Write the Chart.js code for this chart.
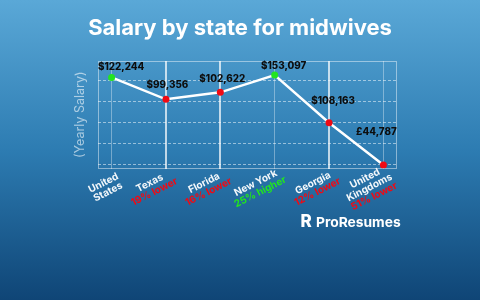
<!DOCTYPE html>
<html><head><meta charset="utf-8">
<script src="https://cdn.jsdelivr.net/npm/chart.js@4.4.1/dist/chart.umd.min.js"></script>
<style>html,body{margin:0;padding:0;width:480px;height:300px;overflow:hidden;background:#2a78ae;}canvas{display:block}</style>
</head><body><canvas id="c" width="480" height="300"></canvas>
<script>
// ---- data ----
const chartTitle = "Salary by state for midwives";
const yAxisTitle = "(Yearly Salary)";
const categories = [["United","States"],["Texas"],["Florida"],["New York"],["Georgia"],["United","Kingdoms"]];
const comparisons = ["", "19% lower", "16% lower", "25% higher", "12% lower", "51% lower"];
const salaryLabels = ["$122,244","$99,356","$102,622","$153,097","$108,163","£44,787"];
// point heights as drawn in the picture (axis has no tick labels; arbitrary units)
const plotLevels = [102.5, 81.8, 88.4, 104.7, 59.7, 19.8];
const yGridTicks = [20, 40, 60, 80, 100];
const yRange = [16.5, 118];
const brandName = "ProResumes";

// ---- styles ----
const GREEN = '#22e51f', RED = '#f00a14';
const isUp = comparisons.map((c,i)=> c === "" || c.indexOf('higher') >= 0);
const pointColors = isUp.map(u => u ? GREEN : RED);
const labelOffsets = [[9.5,-10.6],[1.5,-14],[2,-13],[9,-9],[4,-22],[-7,-33]];
const FONT = 'Inter, "Noto Sans", sans-serif';

const deco = {
  id: 'deco',
  beforeDraw(chart) {
    const {ctx, width, height} = chart;
    const g = ctx.createLinearGradient(0, 0, 0, height);
    g.addColorStop(0, '#5aa8d7');
    g.addColorStop(0.5, '#2d7cb2');
    g.addColorStop(1, '#0f4576');
    ctx.save(); ctx.fillStyle = g; ctx.fillRect(0, 0, width, height); ctx.restore();
  },
  beforeDatasetsDraw(chart) {
    const {ctx, chartArea: a} = chart;
    ctx.save();
    ctx.strokeStyle = 'rgba(255,255,255,0.45)'; ctx.lineWidth = 1;
    ctx.strokeRect(Math.round(a.left)+0.5, Math.round(a.top)+0.5, Math.round(a.right-a.left)-1, Math.round(a.bottom-a.top)-1);
    ctx.restore();
  },
  afterDraw(chart) {
    const {ctx, chartArea: a} = chart;
    const xs = chart.scales.x;
    ctx.save();
    // title
    ctx.fillStyle = '#ffffff'; ctx.textAlign = 'center'; ctx.textBaseline = 'alphabetic';
    ctx.font = '700 22px ' + FONT;
    ctx.fillText(chartTitle, 240, 35);
    // y axis title
    ctx.save();
    ctx.translate(80, (a.top + a.bottom) / 2); ctx.rotate(-Math.PI / 2);
    ctx.font = '400 12.5px ' + FONT; ctx.fillStyle = 'rgba(255,255,255,0.58)';
    ctx.textBaseline = 'middle'; ctx.fillText(yAxisTitle, 0, 0);
    ctx.restore();
    // x labels
    const deg = 27, ang = -deg * Math.PI / 180, lh = 10;
    ctx.font = '700 10px ' + FONT;
    categories.forEach((lines, i) => {
      const all = lines.map(t => ({t, c: '#f4f8fb'}));
      if (comparisons[i]) all.push({t: comparisons[i], c: isUp[i] ? GREEN : RED});
      const W = Math.max(...all.map(l => ctx.measureText(l.t).width));
      const px = xs.getPixelForValue(i);
      const cx = px + 8.5 - Math.cos(deg*Math.PI/180) * W / 2, cy = 187.5;
      ctx.save(); ctx.translate(cx, cy); ctx.rotate(ang);
      ctx.textAlign = 'center'; ctx.textBaseline = 'middle';
      const n = all.length;
      all.forEach((l, k) => { ctx.fillStyle = l.c; ctx.fillText(l.t, 0, (k - (n - 1) / 2) * lh); });
      ctx.restore();
    });
    // value labels
    const meta = chart.getDatasetMeta(0);
    ctx.font = '800 9.8px ' + FONT; ctx.fillStyle = '#0d0d0d';
    ctx.textAlign = 'center'; ctx.textBaseline = 'middle';
    meta.data.forEach((p, i) => {
      ctx.fillText(salaryLabels[i], p.x + labelOffsets[i][0], p.y + labelOffsets[i][1]);
    });
    // brand
    ctx.fillStyle = '#ffffff'; ctx.textAlign = 'left'; ctx.textBaseline = 'alphabetic';
    ctx.font = '800 17px ' + FONT;
    ctx.fillText('R', 300.5, 226.5);
    ctx.font = '700 13.8px ' + FONT;
    ctx.fillText(brandName, 316, 226.7);
    ctx.restore();
  }
};

new Chart(document.getElementById('c'), {
  type: 'line',
  data: {
    datasets: [{
      data: plotLevels.map((v, i) => ({x: i, y: v})),
      borderColor: '#ffffff', borderWidth: 2.5, tension: 0,
      pointRadius: 3.5, pointHoverRadius: 3.5, pointBorderWidth: 0,
      pointBackgroundColor: pointColors
    }]
  },
  options: {
    responsive: false, animation: false,
    layout: {autoPadding: false, padding: {left: 98, right: 83, top: 61, bottom: 131.5}},
    plugins: {legend: {display: false}, tooltip: {enabled: false}},
    scales: {
      x: {
        type: 'linear', min: -0.25, max: 5.25,
        afterBuildTicks: s => { s.ticks = categories.map((c, i) => ({value: i})); },
        ticks: {display: false},
        border: {display: false},
        grid: {
          drawTicks: false,
          color: c => (c.index === 1 || c.index === 2 || c.index === 4) ? 'rgba(255,255,255,0.7)' : 'rgba(255,255,255,0.35)',
          lineWidth: c => (c.index === 1 || c.index === 2 || c.index === 4) ? 2 : 1
        }
      },
      y: {
        type: 'linear', min: yRange[0], max: yRange[1],
        afterBuildTicks: s => { s.ticks = yGridTicks.map(v => ({value: v})); },
        ticks: {display: false},
        border: {display: false, dash: [3, 2]},
        grid: {drawTicks: false, color: 'rgba(255,255,255,0.5)', lineWidth: 1}
      }
    }
  },
  plugins: [deco]
});
</script>
</body></html>
